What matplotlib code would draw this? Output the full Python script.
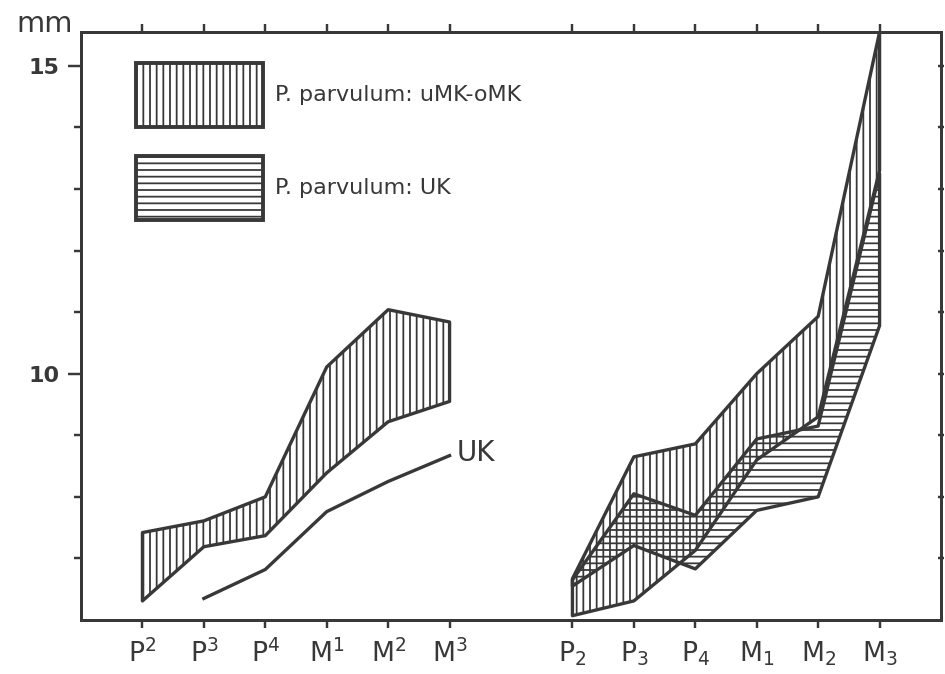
import matplotlib.pyplot as plt
import numpy as np
from matplotlib.patches import Patch

# tooth positions: upper row left, lower row right
upper_x = [1, 2, 3, 4, 5, 6]
lower_x = [8, 9, 10, 11, 12, 13]
upper_labels = ['P$^2$', 'P$^3$', 'P$^4$', 'M$^1$', 'M$^2$', 'M$^3$']
lower_labels = ['P$_2$', 'P$_3$', 'P$_4$', 'M$_1$', 'M$_2$', 'M$_3$']

# P. parvulum uMK-oMK, upper teeth (range, mm)
omk_up_max = [7.42, 7.61, 8.0, 10.11, 11.04, 10.84]
omk_up_min = [6.31, 7.19, 7.37, 8.39, 9.22, 9.55]
# UK line, upper teeth (P3..M3)
uk_up_x = [2, 3, 4, 5, 6]
uk_up = [6.35, 6.82, 7.76, 8.25, 8.67]

# lower teeth ranges
omk_lo_max = [6.67, 8.65, 8.86, 10.0, 10.93, 15.55]
omk_lo_min = [6.07, 6.31, 7.13, 8.6, 9.3, 13.3]
uk_lo_max = [6.65, 8.05, 7.70, 8.94, 9.15, 13.25]
uk_lo_min = [6.55, 7.21, 6.83, 7.78, 8.0, 10.78]

ink = '#383838'
plt.rcParams['font.family'] = ['DejaVu Sans']
plt.rcParams['hatch.linewidth'] = 1.6
plt.rcParams['mathtext.fontset'] = 'dejavusans'

fig = plt.figure(figsize=(945 / 80, 674 / 80), dpi=80)
ax = fig.add_axes([81 / 945, 1 - 620 / 674, 860 / 945, 588 / 674])


def band(x, top, bot, hatch):
    xp = np.concatenate([x, x[::-1]])
    yp = np.concatenate([top, bot[::-1]])
    ax.fill(xp, yp, facecolor='none', edgecolor=ink, hatch=hatch,
            linewidth=3, joinstyle='round')


band(np.array(upper_x), np.array(omk_up_max), np.array(omk_up_min), '||')
band(np.array(lower_x), np.array(omk_lo_max), np.array(omk_lo_min), '||')
band(np.array(lower_x), np.array(uk_lo_max), np.array(uk_lo_min), '--')

ax.plot(uk_up_x, uk_up, color=ink, linewidth=3)
ax.text(6.12, 8.72, 'UK', fontsize=25, color=ink, va='center')

ax.set_xlim(0, 14)
ax.set_ylim(6, 15.55)

ax.set_xticks(upper_x + lower_x)
ax.set_xticklabels(upper_labels + lower_labels, fontsize=24, color=ink)
ax.tick_params(axis='x', top=True, direction='out', length=7, width=2.2,
               color=ink, pad=11)

ax.set_yticks([10, 15])
ax.set_yticklabels(['10', '15'], fontsize=20, fontweight='bold', color=ink)
ax.set_yticks([7, 8, 9, 11, 12, 13, 14], minor=True)
ax.tick_params(axis='y', which='major', direction='out', length=11.5, width=2.2,
               color=ink, pad=8)
ax.tick_params(axis='y', which='minor', direction='out', length=6, width=2.2,
               color=ink)

sec = ax.secondary_yaxis('right')
sec.set_yticks(range(7, 16))
sec.tick_params(direction='inout', length=6, width=2.2, color=ink,
                labelright=False)
sec.spines['right'].set_linewidth(2.7)
sec.spines['right'].set_color(ink)

for s in ax.spines.values():
    s.set_linewidth(2.7)
    s.set_color(ink)

ax.text(-0.010, 1.0, 'mm', transform=ax.transAxes, fontsize=26, color=ink,
        ha='right', va='baseline')

handles = [Patch(facecolor='white', edgecolor=ink, hatch='||', linewidth=3.5),
           Patch(facecolor='white', edgecolor=ink, hatch='--', linewidth=3.5)]
ax.legend(handles, ['P. parvulum: uMK-oMK', 'P. parvulum: UK'],
          loc='upper left', bbox_to_anchor=(0.064, 0.947), frameon=False,
          handlelength=5.7, handleheight=4.05, labelspacing=1.3,
          handletextpad=0.55, borderpad=0, borderaxespad=0, fontsize=20,
          labelcolor=ink)

fig.savefig('out.png', dpi=80)
